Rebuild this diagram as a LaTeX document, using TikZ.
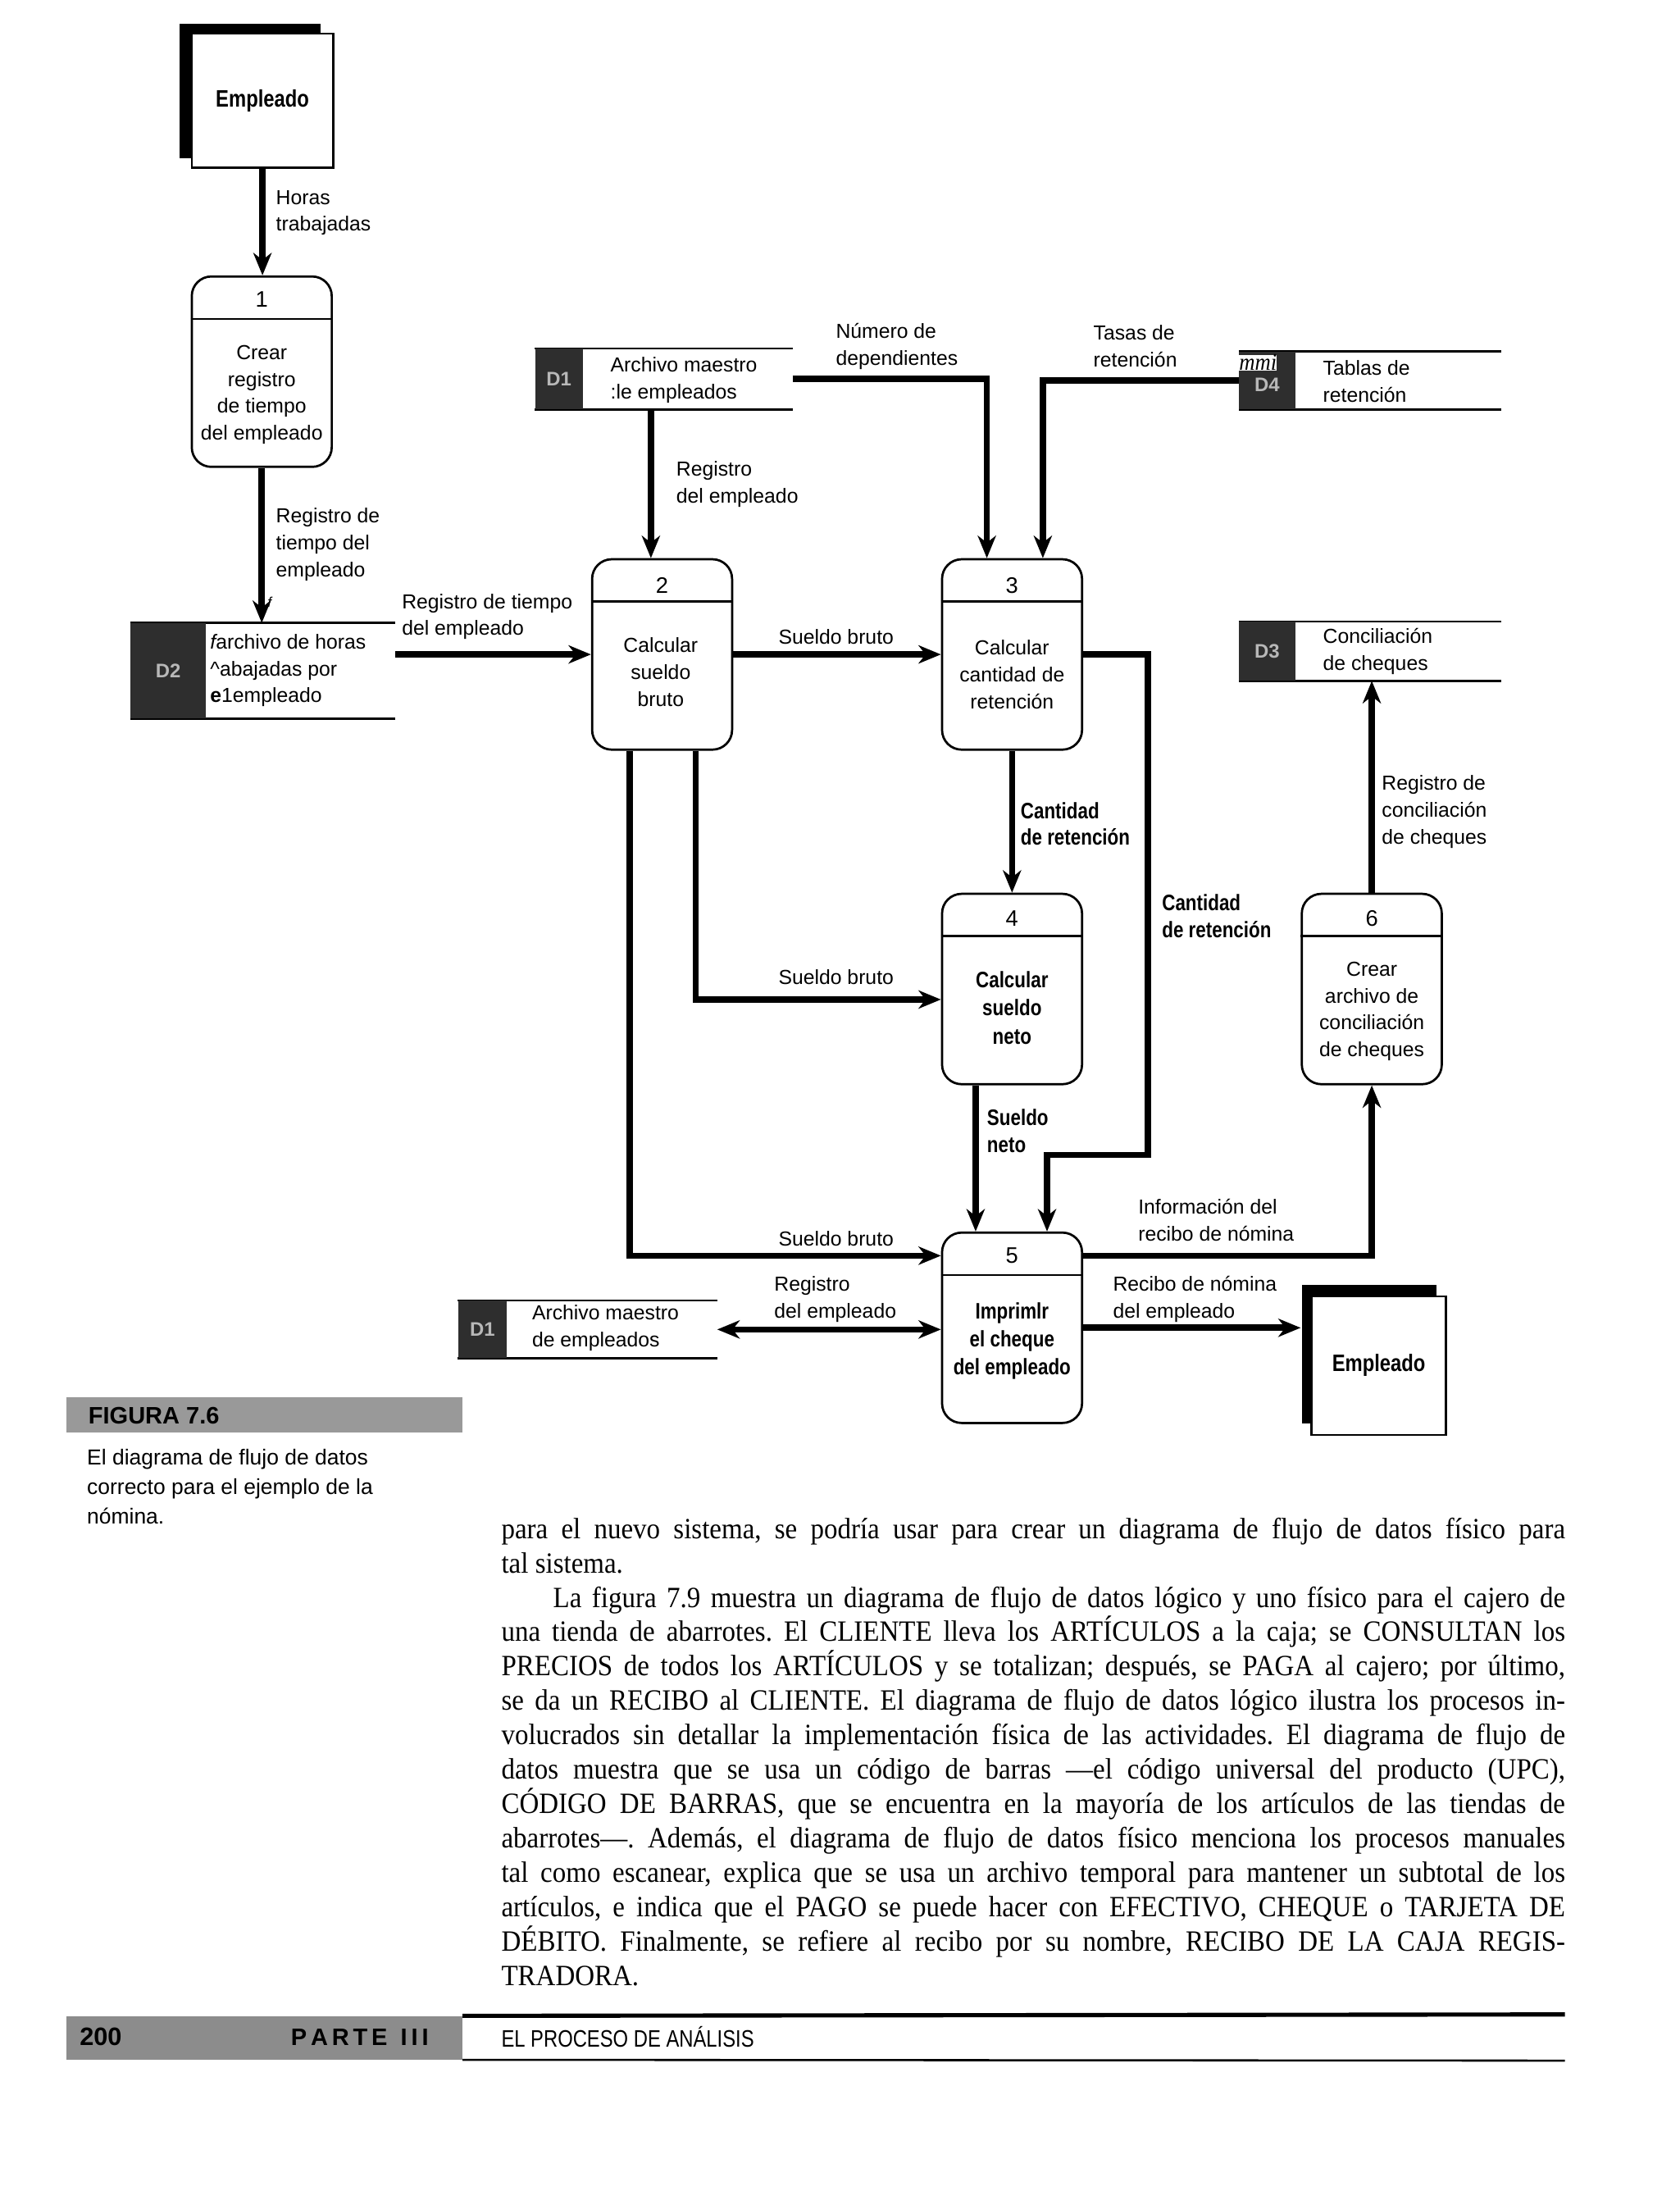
\documentclass[tikz,border=0pt]{standalone}
\usepackage{fontspec}
\setmainfont{Liberation Sans}
\newfontfamily\bodyserif{Liberation Serif}[FakeStretch=0.92]
\newfontfamily\condsans{Liberation Sans}[FakeStretch=0.82]
\usetikzlibrary{arrows.meta,calc,shadows}
\frenchspacing
\begin{document}
\begin{tikzpicture}[x=1pt,y=-1pt,
  lbl/.style={anchor=west, align=left, inner sep=0pt, font=\fontsize{14.5}{19.2}\selectfont},
  blbl/.style={anchor=west, align=left, inner sep=0pt, font=\condsans\bfseries\fontsize{16}{19.2}\selectfont},
  proc/.style={draw, line width=1.6pt, rounded corners=14pt, minimum width=100pt, minimum height=136pt, inner sep=0pt},
  divider/.style={line width=1.4pt},
  ptxt/.style={align=center, inner sep=0pt, font=\fontsize{14.5}{19.2}\selectfont},
  bptxt/.style={align=center, inner sep=0pt, font=\condsans\bfseries\fontsize{16}{20}\selectfont},
  pnum/.style={inner sep=0pt, font=\fontsize{16}{18}\selectfont},
  flow/.style={line width=4.5pt, -{Stealth[length=16pt,width=13pt,inset=5pt]}},
  flowboth/.style={line width=4.5pt, {Stealth[length=16pt,width=13pt,inset=5pt]}-{Stealth[length=16pt,width=13pt,inset=5pt]}},
  storeid/.style={fill=black!82, anchor=north west, inner sep=0pt, text=white!72!black, font=\bfseries\fontsize{14}{16}\selectfont},
  storearea/.style={anchor=north west, inner sep=0pt},
  storeline/.style={line width=1.6pt},
  entity/.style={draw, line width=1.6pt, fill=white, inner sep=0pt, font=\condsans\bfseries\fontsize{17}{18}\selectfont}
]
\fill[white] (0,0) rectangle (1200,1578);
\useasboundingbox (0,0) rectangle (1200,1578);

% ---------- external entities ----------
\node[entity, minimum width=101pt, minimum height=96pt,
      general shadow={fill=black, shadow xshift=-9pt, shadow yshift=7pt}] (e1) at (187.5,72) {Empleado};
\node[entity, minimum width=96pt, minimum height=99pt,
      general shadow={fill=black, shadow xshift=-7pt, shadow yshift=8pt}] (e2) at (985,975.5) {Empleado};

% ---------- processes ----------
\node[proc] (p1) at (187,265.5) {};
\draw[divider] ($(p1.north west)+(0,31)$) -- ($(p1.north east)+(0,31)$);
\node[pnum] (p1n) at (187,214) {1};
\node[ptxt] (p1t) at (187,282) {Crear\\registro\\de tiempo\\del empleado};

\node[proc] (p2) at (473,467.5) {};
\draw[divider] ($(p2.north west)+(0,31)$) -- ($(p2.north east)+(0,31)$);
\node[pnum] (p2n) at (473,418) {2};
\node[ptxt] (p2t) at (472,480) {Calcular\\sueldo\\bruto};

\node[proc] (p3) at (723,467.5) {};
\draw[divider] ($(p3.north west)+(0,31)$) -- ($(p3.north east)+(0,31)$);
\node[pnum] (p3n) at (723,418) {3};
\node[ptxt] (p3t) at (723,482) {Calcular\\cantidad de\\retención};

\node[proc] (p4) at (723,706.5) {};
\draw[divider] ($(p4.north west)+(0,31)$) -- ($(p4.north east)+(0,31)$);
\node[pnum] (p4n) at (723,656) {4};
\node[bptxt] (p4t) at (723,720) {Calcular\\sueldo\\neto};

\node[proc] (p6) at (980,706.5) {};
\draw[divider] ($(p6.north west)+(0,31)$) -- ($(p6.north east)+(0,31)$);
\node[pnum] (p6n) at (980,656) {6};
\node[ptxt] (p6t) at (980,722.5) {Crear\\archivo de\\conciliación\\de cheques};

\node[proc] (p5) at (723,948.5) {};
\draw[divider] ($(p5.north west)+(0,31)$) -- ($(p5.north east)+(0,31)$);
\node[pnum] (p5n) at (723,897) {5};
\node[bptxt] (p5t) at (723,958) {Imprimlr\\el cheque\\del empleado};

% ---------- data stores ----------
\node[storearea, minimum width=189pt, minimum height=68pt] (d2) at (93,445) {};
\draw[storeline] (d2.north west) -- (d2.north east) (d2.south west) -- (d2.south east);
\node[storeid, minimum width=54pt, minimum height=68pt] (d2id) at (93,445) {D2};
\node[lbl] (d2t) at (150,479) {{\itshape f}archivo de horas\\\textasciicircum abajadas por\\{\bfseries e}1empleado};

\node[storearea, minimum width=184pt, minimum height=43pt] (d1a) at (382,249) {};
\draw[storeline] (d1a.north west) -- (d1a.north east) (d1a.south west) -- (d1a.south east);
\node[storeid, minimum width=34pt, minimum height=43pt] (d1aid) at (382,249) {D1};
\node[lbl] (d1at) at (436,271.5) {Archivo maestro\\:le empleados};

\node[storearea, minimum width=187pt, minimum height=41pt] (d4) at (885,251) {};
\draw[storeline] (d4.north west) -- (d4.north east) (d4.south west) -- (d4.south east);
\node[storeid, minimum width=40pt, minimum height=41pt, text depth=0pt] (d4id) at (885,251) {\raisebox{-6pt}{D4}};
\node[anchor=west, inner sep=0pt, fill=white, font=\bodyserif\itshape\fontsize{17}{17}\selectfont] (d4x) at (885,259) {mmi};
\node[lbl] (d4t) at (945,272.5) {Tablas de\\retención};

\node[storearea, minimum width=187pt, minimum height=42pt] (d3) at (885,444) {};
\draw[storeline] (d3.north west) -- (d3.north east) (d3.south west) -- (d3.south east);
\node[storeid, minimum width=40pt, minimum height=42pt] (d3id) at (885,444) {D3};
\node[lbl] (d3t) at (945,465.5) {Conciliación\\de cheques};

\node[storearea, minimum width=185pt, minimum height=41pt] (d1b) at (327,929) {};
\draw[storeline] (d1b.north west) -- (d1b.north east) (d1b.south west) -- (d1b.south east);
\node[storeid, minimum width=35pt, minimum height=41pt] (d1bid) at (327,929) {D1};
\node[lbl] (d1bt) at (380,948.5) {Archivo maestro\\de empleados};

% ---------- helper coordinates ----------
\coordinate (p2in) at ($(p2.north)+(-8,0)$);
\coordinate (p3inL) at ($(p3.north)+(-18,0)$);
\coordinate (p3inR) at ($(p3.north)+(22,0)$);
\coordinate (c3a) at (820,825);
\coordinate (p5inR) at ($(p5.north)+(25,0)$);
\coordinate (p2outA) at ($(p2.south)+(24,0)$);
\coordinate (p4inL) at ($(p4.west)+(0,7.5)$);
\coordinate (p2outB) at ($(p2.south)+(-23,0)$);
\coordinate (p5inL) at ($(p5.west)+(0,-51.5)$);
\coordinate (p4out) at ($(p4.south)+(-26,0)$);
\coordinate (p5outR) at ($(p5.east)+(0,-51.5)$);
\coordinate (e2l) at ($(e2.west)+(-7,0)$);

% ---------- flows ----------
\draw[flow] (e1.south) -- (e1.south |- p1.north);
\draw[flow] (p1.south) -- (p1.south |- d2.north);
\draw[flow] (d2.east |- p2.west) -- (p2.west);
\draw[flow] (p2in |- d1a.south) -- (p2in);
\draw[flow] (d1a.east) -| (p3inL);
\draw[flow] (d4.west) -| (p3inR);
\draw[flow] (p2.east) -- (p3.west);
\draw[flow] (p3.south) -- (p4.north);
\draw[flow] (p3.east) -| (c3a) -| (p5inR);
\draw[flow] (p2outA) |- (p4inL);
\draw[flow] (p2outB) |- (p5inL);
\draw[flow] (p4out) -- (p4out |- p5.north);
\draw[flow] (p5outR) -| (p6.south);
\draw[flow] (p6.north) -- (p6.north |- d3.south);
\draw[flowboth] (d1b.east) -- (d1b.east -| p5.west);
\draw[flow] (p5.east) -- (p5.east -| e2l);

% ---------- flow labels ----------
\node[lbl] (l1) at (197,152) {Horas\\trabajadas};
\node[lbl] (l2) at (197,389) {Registro de\\tiempo del\\empleado};
\node[anchor=west, inner sep=0pt, font=\itshape\fontsize{10}{12}\selectfont] (lf) at (191,430) {f};
\node[lbl] (l3) at (287,440.5) {Registro de tiempo\\del empleado};
\node[lbl] (l4) at (483,346) {Registro\\del empleado};
\node[lbl] (l5) at (597,247.5) {Número de\\dependientes};
\node[lbl] (l6) at (781,247.5) {Tasas de\\retención};
\node[lbl] (l7) at (556,455) {Sueldo bruto};
\node[blbl] (l8) at (729,588.5) {Cantidad\\de retención};
\node[blbl] (l9) at (830,654.5) {Cantidad\\de retención};
\node[lbl] (l10) at (987,580) {Registro de\\conciliación\\de cheques};
\node[lbl] (l11) at (556,698) {Sueldo bruto};
\node[blbl] (l12) at (705,808) {Sueldo\\neto};
\node[lbl] (l13) at (556,885) {Sueldo bruto};
\node[lbl] (l14) at (813,871.5) {Información del\\recibo de nómina};
\node[lbl] (l15) at (553,928) {Registro\\del empleado};
\node[lbl] (l16) at (795,928) {Recibo de nómina\\del empleado};

% ---------- caption ----------
\node[fill=black!40, anchor=north west, inner sep=0pt, minimum width=283pt, minimum height=25pt] (figbox) at (47,998) {};
\node[anchor=west, inner sep=0pt, font=\bfseries\fontsize{17}{20}\selectfont] (figt) at (63,1011) {FIGURA 7.6};
\node[anchor=west, align=left, inner sep=0pt, font=\fontsize{15.5}{21}\selectfont] (capt) at (62,1062) {El diagrama de flujo de datos\\correcto para el ejemplo de la\\nómina.};

% ---------- body text ----------
\node[anchor=north west, inner sep=0pt, text width=760pt, align=justify,
      font=\bodyserif\fontsize{21}{24.55}\selectfont] (body) at (358,1084) {%
para el nuevo sistema, se podría usar para crear un diagrama de flujo de datos físico para\linebreak
tal sistema.\par
\hspace*{37pt}La figura 7.9 muestra un diagrama de flujo de datos lógico y uno físico para el cajero de\linebreak
una tienda de abarrotes. El CLIENTE lleva los ARTÍCULOS a la caja; se CONSULTAN los\linebreak
PRECIOS de todos los ARTÍCULOS y se totalizan; después, se PAGA al cajero; por último,\linebreak
se da un RECIBO al CLIENTE. El diagrama de flujo de datos lógico ilustra los procesos in-\linebreak
volucrados sin detallar la implementación física de las actividades. El diagrama de flujo de\linebreak
datos muestra que se usa un código de barras —el código universal del producto (UPC),\linebreak
CÓDIGO DE BARRAS, que se encuentra en la mayoría de los artículos de las tiendas de\linebreak
abarrotes—. Además, el diagrama de flujo de datos físico menciona los procesos manuales\linebreak
tal como escanear, explica que se usa un archivo temporal para mantener un subtotal de los\linebreak
artículos, e indica que el PAGO se puede hacer con EFECTIVO, CHEQUE o TARJETA DE\linebreak
DÉBITO. Finalmente, se refiere al recibo por su nombre, RECIBO DE LA CAJA REGIS-\linebreak
TRADORA.};

% ---------- footer ----------
\node[fill=black!45, anchor=north west, inner sep=0pt, minimum width=283pt, minimum height=31pt] (foot) at (47,1440) {};
\node[inner sep=0pt, font=\bfseries\fontsize{18}{20}\selectfont] (fnum) at (72,1455) {200};
\node[inner sep=0pt, font=\bfseries\fontsize{17}{20}\selectfont] (fpart) at (257,1455) {P\,A\,R\,T\,E\ \ I\,I\,I};
\coordinate (ftR) at (1118,1439);
\coordinate (fbR) at (1118,1472);
\draw[line width=3pt] (foot.north east) -- (ftR);
\draw[line width=1.5pt] (foot.south east) -- (fbR);
\node[anchor=west, inner sep=0pt, font=\condsans\fontsize{17}{18}\selectfont] (fsec) at (358,1455) {EL PROCESO DE ANÁLISIS};
\end{tikzpicture}
\end{document}
